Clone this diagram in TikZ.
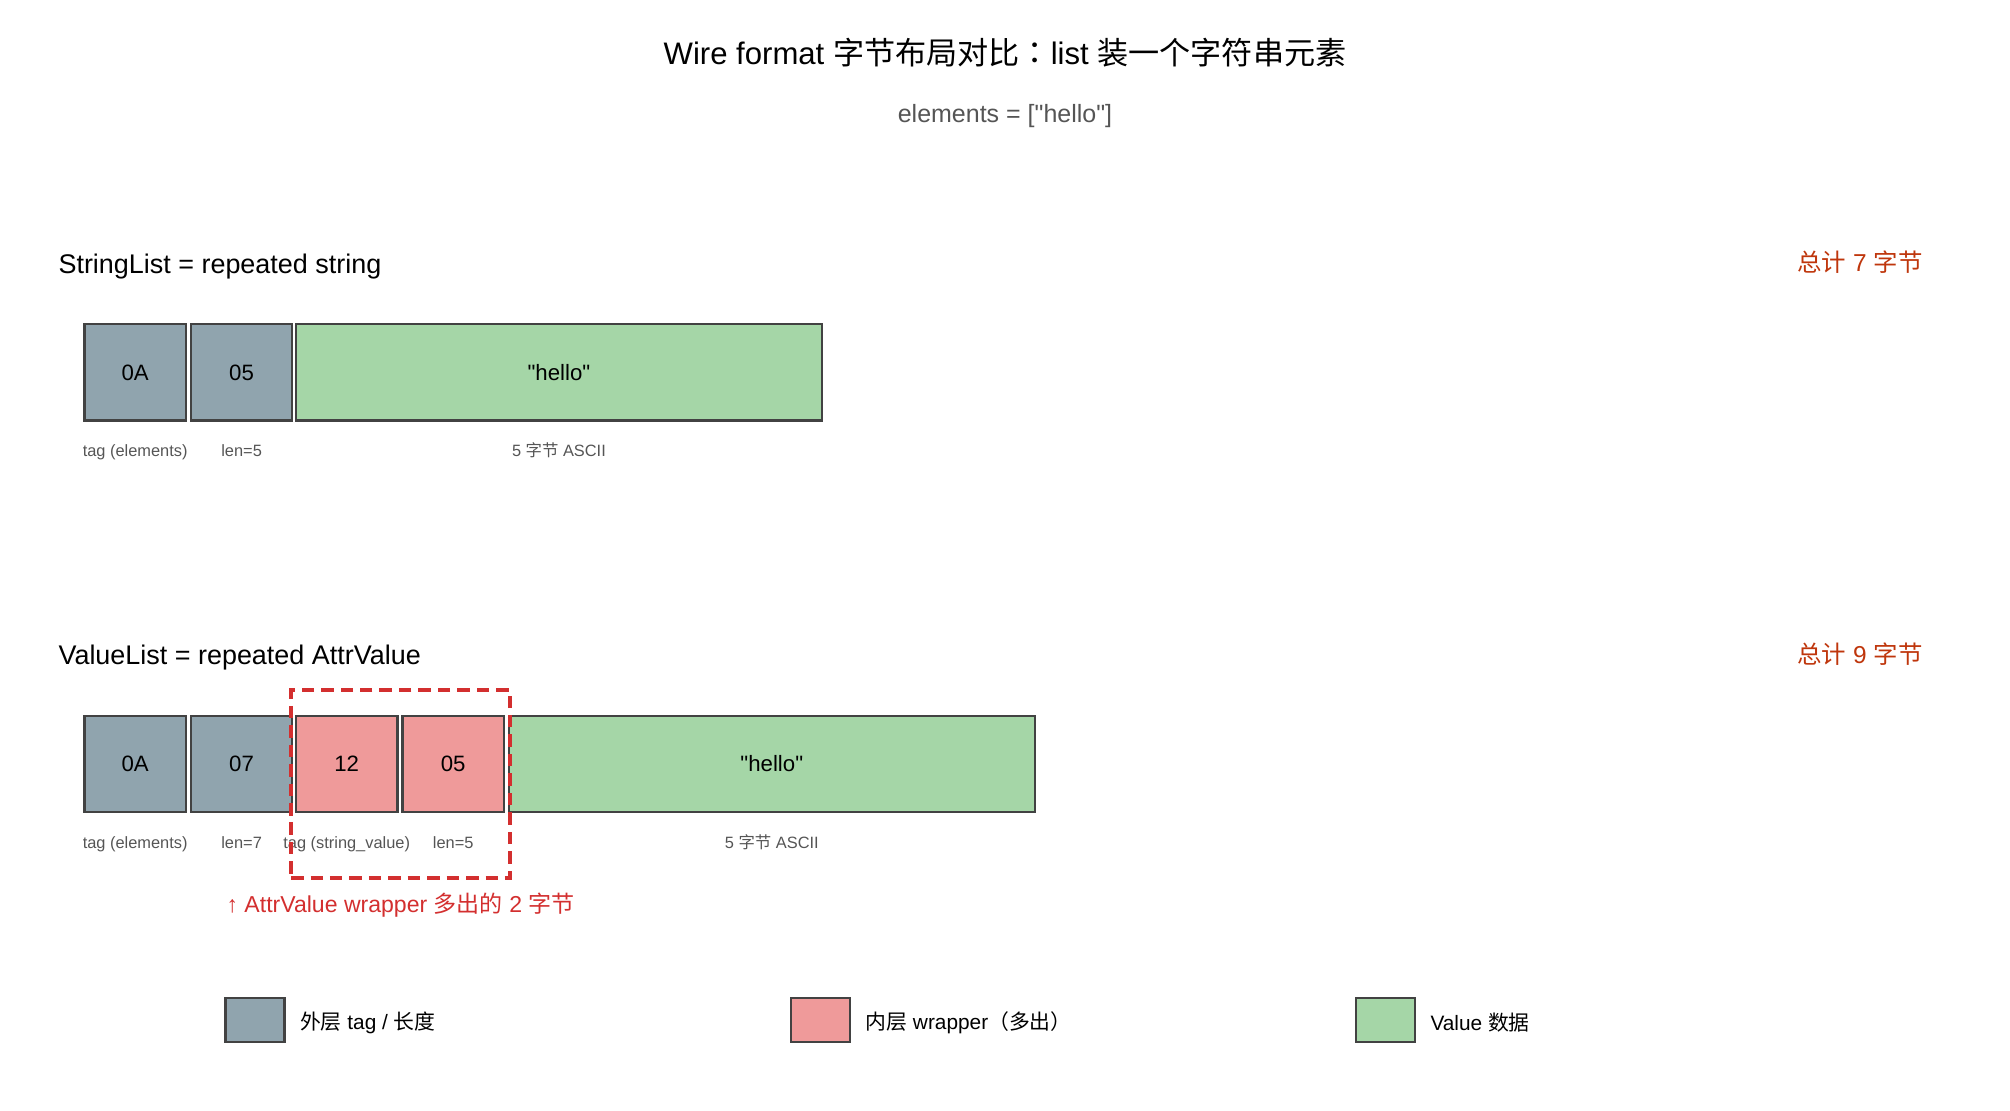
\documentclass[tikz,border=0pt]{standalone}
\usepackage{fontspec}
\setmainfont{Liberation Sans}[Ligatures=TeXOff]
\newfontfamily\cjk{Noto Sans CJK SC}
\newfontfamily\cjkpunct{Noto Sans CJK TC}
\newcommand{\zh}[1]{{\cjk #1}}
\newcommand{\zp}[1]{{\cjkpunct #1}}
\usetikzlibrary{positioning}
\definecolor{outergray}{HTML}{90A4AE}
\definecolor{innerred}{HTML}{EF9A9A}
\definecolor{datagreen}{HTML}{A5D6A7}
\definecolor{boxedge}{HTML}{424242}
\definecolor{wrapred}{HTML}{D32F2F}
\definecolor{totalred}{HTML}{BF360C}
\definecolor{notegray}{HTML}{555555}

\begin{document}
\begin{tikzpicture}[x=0.36pt,y=-0.36pt]
\tikzset{
  bytebox/.style={draw=boxedge,line width=0.8pt,minimum width=36.5pt,minimum height=34.6pt,inner sep=0pt,font=\fontsize{8}{10}\selectfont},
  outerbyte/.style={bytebox,fill=outergray},
  innerbyte/.style={bytebox,fill=innerred},
  databyte/.style={bytebox,fill=datagreen,minimum width=189.3pt},
  bytenote/.style={anchor=base,inner sep=0pt,text=notegray,font=\fontsize{5.9}{7}\selectfont},
  rowtitle/.style={anchor=west,inner sep=0pt,font=\fontsize{9.7}{12}\selectfont},
  totalnote/.style={anchor=east,inner sep=0pt,text=totalred,font=\fontsize{8.8}{11}\selectfont},
  wrapframe/.style={draw=wrapred,line width=1.2pt,dash pattern=on 4.5pt off 2.5pt,minimum width=78.8pt,minimum height=67.7pt,inner sep=0pt},
  legendbox/.style={draw=boxedge,line width=0.8pt,minimum width=21.2pt,minimum height=15.6pt,inner sep=0pt},
  legendtext/.style={anchor=west,inner sep=0pt,font=\fontsize{7.5}{9}\selectfont}
}
\useasboundingbox (0,0) rectangle (2010,1110);
\node[inner sep=0pt,font=\fontsize{11.2}{14}\selectfont] (title) at (1005,53) {Wire format \zh{字节布局对比}\zp{：}list \zh{装一个字符串元素}};
\node[inner sep=0pt,text=notegray,font=\fontsize{9}{11}\selectfont] (subtitle) at (1005,116.5) {elements = ["hello"]};
\node[rowtitle] (t_str) at (58,267) {StringList = repeated string};
\node[totalnote] (sum_str) at (1923,262) {\zh{总计} 7 \zh{字节}};
\node[outerbyte] (s_tag) at (135.2,372.4) {0A};
\node[outerbyte] (s_len) at (241.6,372.4) {05};
\node[databyte] (s_val) at (558.9,372.4) {"hello"};
\node[bytenote] (s_tag_l) at (135.2,456) {tag (elements)};
\node[bytenote] (s_len_l) at (241.6,456) {len=5};
\node[bytenote] (s_val_l) at (558.9,456) {5 \zh{字节} ASCII};
\node[rowtitle] (t_val) at (58,658) {ValueList = repeated AttrValue};
\node[totalnote] (sum_val) at (1923,654) {\zh{总计} 9 \zh{字节}};
\node[outerbyte] (v_tag) at (135.2,764) {0A};
\node[outerbyte] (v_len) at (241.6,764) {07};
\node[innerbyte] (v_wtag) at (346.7,764) {12};
\node[innerbyte] (v_wlen) at (453.2,764) {05};
\node[databyte] (v_val) at (771.8,764) {"hello"};
\node[bytenote] (v_tag_l) at (135.2,848) {tag (elements)};
\node[bytenote] (v_len_l) at (241.6,848) {len=7};
\node[bytenote] (v_wtag_l) at (346.7,848) {tag (string\_value)};
\node[bytenote] (v_wlen_l) at (453.2,848) {len=5};
\node[bytenote] (v_val_l) at (771.8,848) {5 \zh{字节} ASCII};
\node[wrapframe] (wrap) at (400.5,784) {};
\node[anchor=west,inner sep=0pt,text=wrapred,font=\fontsize{8.3}{10}\selectfont] (wrap_note) at (226,905) {↑ AttrValue wrapper \zh{多出的} 2 \zh{字节}};
\node[legendbox,fill=outergray] (lg_outer) at (255,1020) {};
\node[legendtext,right=5pt of lg_outer,yshift=-1pt] (lg_outer_t) {\zh{外层} tag / \zh{长度}};
\node[legendbox,fill=innerred] (lg_inner) at (820.5,1020) {};
\node[legendtext,right=5pt of lg_inner,yshift=-1pt] (lg_inner_t) {\zh{内层} wrapper\zp{（}\zh{多出}\zp{）}};
\node[legendbox,fill=datagreen] (lg_data) at (1385.5,1020) {};
\node[legendtext,right=5pt of lg_data,yshift=-1pt] (lg_data_t) {Value \zh{数据}};
\end{tikzpicture}
\end{document}
